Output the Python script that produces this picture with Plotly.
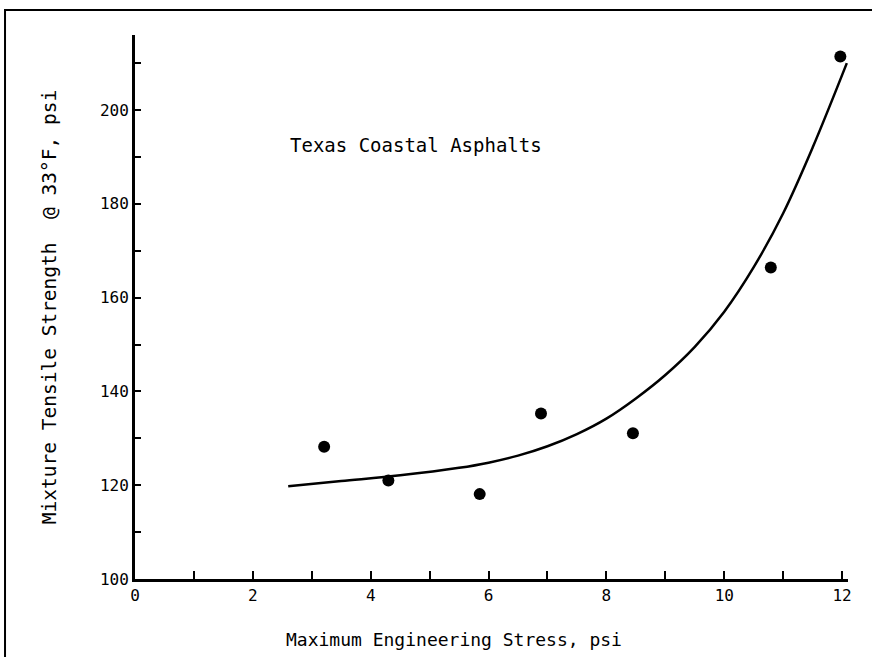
import plotly.graph_objects as go

# Measured data points
stress_pts = [3.21, 4.30, 5.85, 6.89, 8.45, 10.79, 11.97]
strength_pts = [128.2, 121.0, 118.1, 135.3, 131.1, 166.4, 211.4]

# Fitted curve
curve_x = [2.6, 3.5, 4.5, 5.5, 6.0, 6.5, 7.0, 7.5, 8.0, 8.5, 9.0, 9.5, 10.0, 10.5, 11.0, 11.5, 12.08]
curve_y = [119.8, 120.9, 122.1, 123.7, 124.8, 126.3, 128.3, 130.9, 134.2, 138.5, 143.5, 149.5, 157.0, 166.5, 178.0, 192.0, 210.0]

x_ticks = [0, 2, 4, 6, 8, 10, 12]
y_ticks = [100, 120, 140, 160, 180, 200]

FONT = "DejaVu Sans Mono"

fig = go.Figure()
fig.add_trace(go.Scatter(x=curve_x, y=curve_y, mode="lines",
                         line=dict(color="black", width=2.5, shape="spline", smoothing=1.0),
                         hoverinfo="skip", showlegend=False))
fig.add_trace(go.Scatter(x=stress_pts, y=strength_pts, mode="markers",
                         marker=dict(color="black", size=12),
                         showlegend=False))

fig.add_annotation(x=0.2146, y=0.798, xref="paper", yref="paper",
                   text="Texas Coastal Asphalts", showarrow=False,
                   xanchor="left", yanchor="middle",
                   font=dict(family=FONT, size=19, color="black"))

# x-axis title (placed left of centre as in the original)
fig.add_annotation(x=0.447, y=-0.112, xref="paper", yref="paper",
                   text="Maximum Engineering Stress, psi", showarrow=False,
                   xanchor="center", yanchor="middle",
                   font=dict(family=FONT, size=18, color="black"))

# outer frame (cropped at right and bottom)
fig.add_shape(type="rect", xref="paper", yref="paper",
              x0=-0.1823, x1=2.0, y0=-1.0, y1=1.046,
              line=dict(color="black", width=2), layer="above")

fig.update_layout(
    width=872, height=657,
    margin=dict(l=135, r=24, t=35, b=78),
    paper_bgcolor="white", plot_bgcolor="white",
    font=dict(family=FONT, color="black"),
    xaxis=dict(range=[0, 12.1], tickvals=x_ticks, ticks="inside", ticklen=8,
               tickwidth=2, tickcolor="black", showline=True, linecolor="black",
               linewidth=3, showgrid=False, zeroline=False,
               tickfont=dict(family=FONT, size=16, color="black"),
               minor=dict(dtick=1, ticks="inside", ticklen=8, tickwidth=2, tickcolor="black")),
    yaxis=dict(range=[100, 216], tickvals=y_ticks, ticks="inside", ticklen=6,
               tickwidth=2, tickcolor="black", showline=True, linecolor="black",
               linewidth=3, showgrid=False, zeroline=False,
               tickfont=dict(family=FONT, size=16, color="black"),
               minor=dict(dtick=10, ticks="inside", ticklen=6, tickwidth=2, tickcolor="black"),
               title=dict(text="Mixture Tensile Strength  @ 33°F, psi",
                          font=dict(family=FONT, size=19.5, color="black"), standoff=39)),
)

fig.write_html("out.html")
